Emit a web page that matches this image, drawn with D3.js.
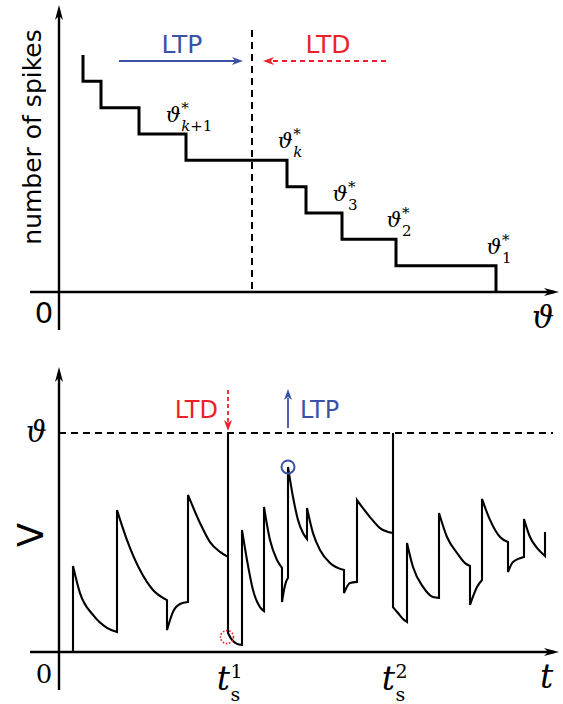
<!DOCTYPE html>
<html><head><meta charset="utf-8">
<script src="https://cdn.jsdelivr.net/npm/d3@7"></script>
<style>body{margin:0;background:#fff}</style>
</head><body>
<svg id="c" width="563" height="704" style="background:#fff"></svg>
<script>
// ---------- DATA ----------
// top panel: positions of the threshold values theta*_i (left to right) and spike count just left of each
const thetaStar = [24, 42, 80, 127, 228, 247, 283, 337, 437];
const spikeCount = [9, 8, 7, 6, 5, 4, 3, 2, 1];
const starLabelIndex = [3, 4, 6, 7, 8];
const starLabelSub = ["k+1", "k", "3", "2", "1"];
const thetaCurrent = 193;

// bottom panel: membrane potential trace (t, V), V=100 is threshold
const vThreshold = 100;
const traceStart = [[14, 0]];
const traceSegments = [
  [[14,39.3],[21,26.9],[34,16.9],[48,11.0],[58,9.1]],
  [[58,64.8],[68,51.1],[81,37.4],[94,28.3],[108,23.7]],
  [[108,10.0],[114,18.3],[121,21.9],[129,22.8]],
  [[129,71.7],[141,58.9],[151,50.2],[161,45.7],[169,43.4]],
  [[169,100]],
  [[169,8.7],[173,5.5],[178,3.7],[183,3.2]],
  [[183,55.7],[188,42.0],[194,28.3],[201,20.5],[205,18.7]],
  [[205,66.2],[211,51.1],[218,42.0],[223,38.4]],
  [[223,22.8],[225,28.3],[227,32.0],[229,33.8]],
  [[229,84.5],[234,70.8],[239,60.3],[244,54.3],[248,51.6]],
  [[248,65.8],[254,54.3],[261,46.6],[271,40.6],[285,37.4]],
  [[285,26.9],[291,31.5],[298,32.0]],
  [[298,69.4],[311,61.6],[321,56.6],[334,54.3]],
  [[334,100]],
  [[334,20.5],[339,17.8],[344,15.1],[348,13.7]],
  [[348,49.8],[354,38.8],[364,29.7],[374,25.1],[380,24.7]],
  [[380,63.5],[388,52.5],[398,45.2],[406,40.6],[411,39.3]],
  [[411,21.5],[418,29.7],[423,32.9]],
  [[423,69.9],[431,60.3],[441,52.5],[449,50.2]],
  [[449,36.5],[454,41.1],[465,43.4]],
  [[465,60.7],[471,52.5],[478,47.5],[486,43.8]],
  [[486,54.8]]
];
const spikeTimes = [169, 334];
const spikeLabels = ["1", "2"];
const ltpMark = [229, 84.5];
const ltdMark = [168, 6.8];

// ---------- DRAW ----------
const RED = "#ee1f2b", BLUE = "#3a52a6";
const svg = d3.select("#c");
const MATH = "DejaVu Serif";
const SANS = "DejaVu Sans";

const xTop = d3.scaleLinear().domain([0, 500]).range([59, 559]);
const yTop = d3.scaleLinear().domain([0, 9]).range([292, 55]);
const xBot = d3.scaleLinear().domain([0, 500]).range([59, 559]);
const yBot = d3.scaleLinear().domain([0, 100]).range([652, 433]);

function arrowHead(g, x, y, ang, color, len, wid) {
  g.append("path")
    .attr("d", `M0,0 L${-len},${-wid/2} L${-len*0.72},0 L${-len},${wid/2} Z`)
    .attr("transform", `translate(${x},${y}) rotate(${ang})`)
    .attr("fill", color);
}
function axes(g, xs, ys, yTopTip, yBottom) {
  const x0 = xs(0), y0 = ys(0);
  g.append("line").attr("x1", 30).attr("x2", 554).attr("y1", y0).attr("y2", y0)
    .attr("stroke", "#000").attr("stroke-width", 2.4);
  arrowHead(g, 559, y0, 0, "#000", 15, 8);
  g.append("line").attr("x1", x0).attr("x2", x0).attr("y1", yBottom).attr("y2", yTopTip + 6)
    .attr("stroke", "#000").attr("stroke-width", 2.4);
  arrowHead(g, x0, yTopTip, -90, "#000", 15, 8);
}

// math label: base with stacked superscript / subscript, in a single text element
function mathLabel(g, base, baseSize, sup, sub, subSize, supDy, subDy) {
  const t = g.append("text").attr("x", 0).attr("y", 0).attr("font-family", MATH);
  t.append("tspan").attr("font-style", "italic").attr("font-size", baseSize).text(base);
  const bw = t.node().getComputedTextLength();
  t.append("tspan").attr("font-size", subSize).attr("x", bw + 0.5).attr("y", supDy).text(sup);
  let first = true;
  sub.forEach(([txt, it]) => {
    const ts = t.append("tspan").attr("font-size", subSize).text(txt);
    if (it) ts.attr("font-style", "italic");
    if (first) { ts.attr("x", bw + 0.5).attr("y", subDy); first = false; }
  });
  return { text: t, bw };
}

// ===== TOP PANEL =====
const topG = svg.append("g");
axes(topG, xTop, yTop, 5, 330);

// dashed current theta
topG.append("line")
  .attr("x1", xTop(thetaCurrent)).attr("x2", xTop(thetaCurrent))
  .attr("y1", 30).attr("y2", yTop(0))
  .attr("stroke", "#000").attr("stroke-width", 2).attr("stroke-dasharray", "7,5");

// staircase
const stepPts = thetaStar.map((t, i) => [t, spikeCount[i]]);
stepPts.push([thetaStar[thetaStar.length - 1], 0]);
topG.append("path")
  .attr("d", d3.line().x(d => xTop(d[0])).y(d => yTop(d[1])).curve(d3.curveStepBefore)(stepPts))
  .attr("fill", "none").attr("stroke", "#000").attr("stroke-width", 3);

// threshold labels
starLabelIndex.forEach((idx, j) => {
  const cx = xTop(thetaStar[idx]) + 3;
  const by = yTop(spikeCount[idx]) - 12;
  const g = topG.append("g");
  const s = starLabelSub[j];
  const parts = s[0] === "k" ? (s.length > 1 ? [["k", true], [s.slice(1), false]] : [["k", true]]) : [[s, false]];
  const m = mathLabel(g, "ϑ", 21, "*", parts, 15, -9, 9);
  const w = m.text.node().getBBox().width;
  g.attr("transform", `translate(${cx - w / 2},${by})`);
});

// LTP / LTD arrows (top)
topG.append("line").attr("x1", xTop(60)).attr("x2", xTop(178)).attr("y1", 61).attr("y2", 61)
  .attr("stroke", BLUE).attr("stroke-width", 1.8);
arrowHead(topG, xTop(184), 61, 0, BLUE, 11, 8);
topG.append("text").attr("x", xTop(123)).attr("y", 53).attr("text-anchor", "middle")
  .attr("font-family", SANS).attr("font-size", 25).attr("fill", BLUE).text("LTP");

topG.append("line").attr("x1", xTop(327)).attr("x2", xTop(210)).attr("y1", 61).attr("y2", 61)
  .attr("stroke", RED).attr("stroke-width", 1.8).attr("stroke-dasharray", "5,4");
arrowHead(topG, xTop(204), 61, 180, RED, 11, 8);
topG.append("text").attr("x", xTop(269)).attr("y", 53).attr("text-anchor", "middle")
  .attr("font-family", SANS).attr("font-size", 25).attr("fill", RED).text("LTD");

// axis labels (top)
topG.append("text").attr("transform", "translate(41,137) rotate(-90)").attr("text-anchor", "middle")
  .attr("font-family", SANS).attr("font-size", 25).text("number of spikes");
topG.append("text").attr("x", 44).attr("y", 323).attr("text-anchor", "middle")
  .attr("font-family", SANS).attr("font-size", 29).text("0");
topG.append("text").attr("x", 532).attr("y", 328)
  .attr("font-family", MATH).attr("font-style", "italic").attr("font-size", 31).text("ϑ");

// ===== BOTTOM PANEL =====
const bot = svg.append("g");
axes(bot, xBot, yBot, 367, 690);

// threshold dashed line
bot.append("line").attr("x1", xBot(0)).attr("x2", 553)
  .attr("y1", yBot(vThreshold)).attr("y2", yBot(vThreshold))
  .attr("stroke", "#000").attr("stroke-width", 1.8).attr("stroke-dasharray", "7,5");

// trace
const lineGen = d3.line().x(d => xBot(d[0])).y(d => yBot(d[1])).curve(d3.curveMonotoneX);
let dStr = `M${xBot(traceStart[0][0])},${yBot(traceStart[0][1])}`;
traceSegments.forEach(seg => {
  if (seg.length === 1) dStr += `L${xBot(seg[0][0])},${yBot(seg[0][1])}`;
  else dStr += lineGen(seg).replace(/^M/, "L");
});
bot.append("path").attr("d", dStr).attr("fill", "none").attr("stroke", "#000")
  .attr("stroke-width", 2.1).attr("stroke-linejoin", "miter");

// marks
bot.append("circle").attr("cx", xBot(ltpMark[0])).attr("cy", yBot(ltpMark[1])).attr("r", 6.5)
  .attr("fill", "none").attr("stroke", BLUE).attr("stroke-width", 2);
bot.append("circle").attr("cx", xBot(ltdMark[0])).attr("cy", yBot(ltdMark[1])).attr("r", 6.5)
  .attr("fill", "none").attr("stroke", RED).attr("stroke-width", 1.6).attr("stroke-dasharray", "1.6,1.6");

// LTD arrow (dashed, down) and LTP arrow (up)
const ty = yBot(vThreshold);
bot.append("line").attr("x1", xBot(spikeTimes[0])).attr("x2", xBot(spikeTimes[0]))
  .attr("y1", 390).attr("y2", ty - 10)
  .attr("stroke", RED).attr("stroke-width", 1.8).attr("stroke-dasharray", "4,3");
arrowHead(bot, xBot(spikeTimes[0]), ty - 2, 90, RED, 11, 8);
bot.append("text").attr("x", xBot(spikeTimes[0]) - 10).attr("y", 418).attr("text-anchor", "end")
  .attr("font-family", SANS).attr("font-size", 24).attr("fill", RED).text("LTD");

bot.append("line").attr("x1", xBot(ltpMark[0])).attr("x2", xBot(ltpMark[0]))
  .attr("y1", ty - 5).attr("y2", 398)
  .attr("stroke", BLUE).attr("stroke-width", 1.8);
arrowHead(bot, xBot(ltpMark[0]), 389, -90, BLUE, 11, 8);
bot.append("text").attr("x", xBot(ltpMark[0]) + 12).attr("y", 418)
  .attr("font-family", SANS).attr("font-size", 24).attr("fill", BLUE).text("LTP");

// axis labels (bottom)
bot.append("text").attr("transform", "translate(43,535) rotate(-90)").attr("text-anchor", "middle")
  .attr("font-family", SANS).attr("font-size", 35).text("V");
bot.append("text").attr("x", 44).attr("y", 683).attr("text-anchor", "middle")
  .attr("font-family", MATH).attr("font-size", 26).text("0");
bot.append("text").attr("x", 26).attr("y", 442)
  .attr("font-family", MATH).attr("font-style", "italic").attr("font-size", 29).text("ϑ");
bot.append("text").attr("x", 540).attr("y", 688)
  .attr("font-family", MATH).attr("font-style", "italic").attr("font-size", 33).text("t");

// spike time labels t_s^i
spikeTimes.forEach((t, i) => {
  const g = bot.append("g");
  const m = mathLabel(g, "t", 33, spikeLabels[i], [["s", false]], 19, -12, 11);
  g.attr("transform", `translate(${xBot(t) + 2 - m.bw},${690})`);
});
</script>
</body></html>
